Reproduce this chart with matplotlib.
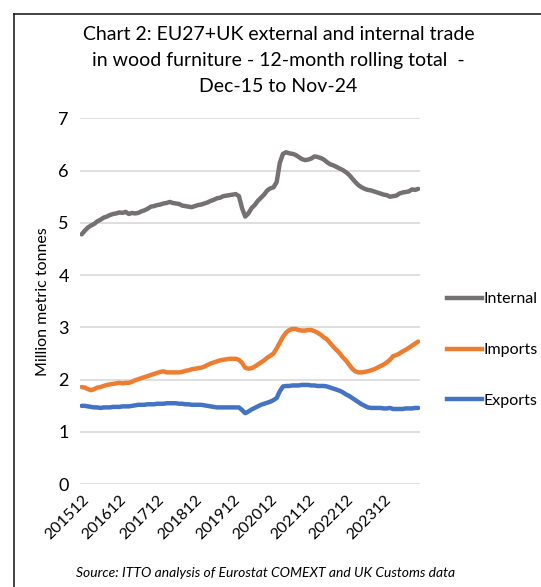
import numpy as np
import matplotlib
matplotlib.use("Agg")
import matplotlib.pyplot as plt
from matplotlib.lines import Line2D

plt.rcParams['font.family'] = ['Lato', 'DejaVu Sans']

# monthly 12-month rolling totals, Dec-15 .. Nov-24 (million tonnes)
internal = [
    4.78, 4.85, 4.91, 4.95, 4.98, 5.03, 5.06, 5.10, 5.12, 5.15, 5.17, 5.18,
    5.20, 5.19, 5.21, 5.17, 5.19, 5.18, 5.19, 5.22, 5.24, 5.27, 5.31, 5.32,
    5.34, 5.35, 5.37, 5.38, 5.40, 5.38, 5.37, 5.36, 5.33, 5.32, 5.31, 5.30,
    5.32, 5.34, 5.35, 5.37, 5.39, 5.42, 5.44, 5.47, 5.48, 5.51, 5.52, 5.53,
    5.54, 5.55, 5.51, 5.28, 5.12, 5.18, 5.28, 5.34, 5.42, 5.48, 5.54, 5.62,
    5.66, 5.68, 5.78, 6.15, 6.32, 6.35, 6.33, 6.32, 6.30, 6.26, 6.22, 6.20,
    6.21, 6.23, 6.27, 6.26, 6.24, 6.21, 6.16, 6.12, 6.10, 6.07, 6.04, 6.01,
    5.97, 5.92, 5.85, 5.78, 5.72, 5.68, 5.65, 5.63, 5.62, 5.60, 5.58, 5.56,
    5.54, 5.53, 5.50, 5.51, 5.52, 5.56, 5.58, 5.59, 5.60, 5.64, 5.63, 5.65,
]
imports = [
    1.86, 1.85, 1.82, 1.80, 1.82, 1.85, 1.86, 1.88, 1.90, 1.91, 1.92, 1.93,
    1.94, 1.93, 1.94, 1.94, 1.96, 1.99, 2.01, 2.03, 2.05, 2.07, 2.09, 2.11,
    2.13, 2.15, 2.16, 2.14, 2.14, 2.14, 2.14, 2.14, 2.15, 2.17, 2.18, 2.20,
    2.21, 2.22, 2.23, 2.25, 2.28, 2.31, 2.33, 2.35, 2.37, 2.38, 2.39, 2.40,
    2.40, 2.40, 2.38, 2.32, 2.23, 2.21, 2.22, 2.25, 2.29, 2.33, 2.37, 2.42,
    2.46, 2.50, 2.60, 2.71, 2.82, 2.90, 2.95, 2.97, 2.97, 2.95, 2.94, 2.94,
    2.95, 2.95, 2.93, 2.90, 2.86, 2.81, 2.77, 2.70, 2.63, 2.57, 2.51, 2.43,
    2.37, 2.29, 2.21, 2.16, 2.14, 2.14, 2.15, 2.16, 2.18, 2.20, 2.23, 2.26,
    2.29, 2.33, 2.38, 2.45, 2.47, 2.50, 2.54, 2.57, 2.61, 2.65, 2.69, 2.73,
]
exports = [
    1.50, 1.50, 1.49, 1.48, 1.47, 1.47, 1.46, 1.47, 1.47, 1.47, 1.48, 1.48,
    1.48, 1.49, 1.49, 1.49, 1.50, 1.51, 1.52, 1.52, 1.52, 1.53, 1.53, 1.53,
    1.54, 1.54, 1.54, 1.55, 1.55, 1.55, 1.55, 1.54, 1.54, 1.53, 1.53, 1.52,
    1.52, 1.52, 1.52, 1.51, 1.50, 1.49, 1.48, 1.47, 1.47, 1.47, 1.47, 1.47,
    1.47, 1.47, 1.47, 1.42, 1.36, 1.39, 1.43, 1.46, 1.49, 1.52, 1.54, 1.56,
    1.58, 1.61, 1.65, 1.78, 1.87, 1.88, 1.88, 1.89, 1.89, 1.89, 1.90, 1.90,
    1.90, 1.89, 1.89, 1.88, 1.88, 1.88, 1.87, 1.85, 1.83, 1.81, 1.79, 1.76,
    1.72, 1.69, 1.65, 1.61, 1.57, 1.53, 1.50, 1.47, 1.46, 1.46, 1.46, 1.46,
    1.45, 1.45, 1.46, 1.44, 1.44, 1.44, 1.44, 1.45, 1.45, 1.45, 1.46, 1.46,
]
tick_labels = ["201512", "201612", "201712", "201812", "201912",
               "202012", "202112", "202212", "202312"]

x = np.arange(len(internal))

fig = plt.figure(figsize=(5.41, 5.87), dpi=100)
ax = fig.add_axes([0.148, 0.175, 0.628, 0.6235])

ax.plot(x, internal, color="#767171", lw=3.2, label="Internal", solid_capstyle="round")
ax.plot(x, imports, color="#ED7D31", lw=3.2, label="Imports", solid_capstyle="round")
ax.plot(x, exports, color="#4472C4", lw=3.2, label="Exports", solid_capstyle="round")

ax.set_ylim(0, 7)
ax.set_xlim(-0.5, len(internal) - 0.5)
ax.set_yticks(range(8))
ax.tick_params(axis="y", length=0, labelsize=13, pad=8)
ax.grid(axis="y", color="#D9D9D9", lw=1.2)
ax.set_axisbelow(True)
for s in ax.spines.values():
    s.set_visible(False)

ax.set_xticks(x[::12])
ax.set_xticklabels(tick_labels, rotation=45, ha="right", va="top",
                   rotation_mode="anchor", fontsize=11.5)
ax.tick_params(axis="x", length=0, pad=6)

ax.set_ylabel("Million metric tonnes", fontsize=11.5, labelpad=6)

handles = [Line2D([], [], color=c, lw=3.2) for c in ("#767171", "#ED7D31", "#4472C4")]
fig.legend(handles, ["Internal", "Imports", "Exports"], loc="upper left",
           bbox_to_anchor=(0.80, 0.527), frameon=False, fontsize=11.5,
           handlelength=2.2, handletextpad=0.1, labelspacing=2.3)

fig.text(0.515, 0.955, "Chart 2: EU27+UK external and internal trade\n"
         "in wood furniture - 12-month rolling total  -\nDec-15 to Nov-24",
         ha="center", va="top", fontsize=14, linespacing=1.62)

fig.text(0.14, 0.017, "Source: ITTO analysis of Eurostat COMEXT and UK Customs data",
         fontsize=10, style="italic")

# outer frame (top and left edges)
fig.add_artist(Line2D([14 / 541, 14 / 541], [0, 1 - 14 / 587], color="#222222", lw=1.2))
fig.add_artist(Line2D([14 / 541, 1], [1 - 14 / 587, 1 - 14 / 587], color="#222222", lw=1.2))

fig.savefig("out.png", dpi=100)
